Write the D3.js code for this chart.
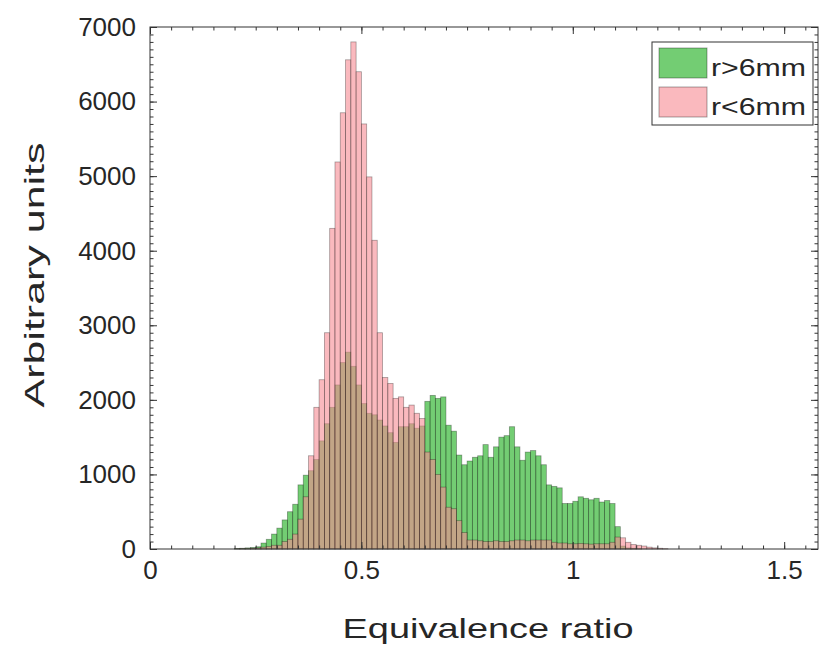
<!DOCTYPE html>
<html>
<head>
<meta charset="utf-8">
<script src="https://cdn.jsdelivr.net/npm/d3@7"></script>
<style>
  body { margin: 0; background: #fff; }
  text { font-family: "Liberation Sans", Arial, sans-serif; fill: #262626; }
</style>
</head>
<body>
<script>
// histogram bins: left edge of first bin and bin width (equivalence ratio)
const firstBin = 0.2;
const binWidth = 0.0125;

// counts per bin, starting at firstBin
const outerCounts = [ // r>6mm
  8, 10, 15, 20, 30, 80, 130, 200, 280, 390, 500, 600, 860, 990, 1050, 1200,
  1450, 1680, 1900, 2200, 2500, 2640, 2450, 2200, 1950, 1820, 1800, 1730, 1650, 1560, 1430, 1640,
  1640, 1680, 1620, 1650, 1980, 2060, 2020, 2040, 1660, 1580, 1260, 1130, 1180, 1230, 1250, 1400,
  1230, 1370, 1500, 1520, 1640, 1370, 1190, 1300, 1320, 1250, 1130, 860, 840, 820, 610, 610,
  640, 700, 680, 660, 680, 630, 650, 610, 300, 40, 15, 10, 5, 0, 0, 0, 0, 0
];
const innerCounts = [ // r<6mm
  3, 5, 5, 10, 15, 25, 35, 50, 50, 100, 130, 200, 400, 700, 1250, 1900,
  2270, 2900, 4300, 5190, 5850, 6560, 6800, 6400, 5700, 4990, 4140, 2900, 2300, 2220, 2020, 2040,
  1900, 1930, 1820, 1750, 1300, 1200, 1000, 830, 560, 540, 380, 220, 120, 120, 110, 100,
  100, 110, 100, 100, 110, 120, 120, 110, 120, 120, 120, 120, 90, 80, 80, 70,
  70, 75, 70, 65, 70, 70, 70, 90, 160, 150, 90, 60, 50, 40, 25, 15, 10, 5
];

const seriesNames = ['r>6mm', 'r<6mm'];
const xTicks = [0, 0.5, 1, 1.5];
const yTicks = [0, 1000, 2000, 3000, 4000, 5000, 6000, 7000];

const W = 820, H = 648;
const marginLeft = 150, plotRight = 818, marginTop = 27, plotBottom = 549;
const colors = ['#16ac16', '#f78a93'];

const x = d3.scaleLinear().domain([0, 1.58]).range([marginLeft, plotRight]);
const y = d3.scaleLinear().domain([0, 7000]).range([plotBottom, marginTop]);

const svg = d3.select('body').append('svg').attr('width', W).attr('height', H);

const toBins = counts => counts.map((c, i) => ({
  x0: firstBin + i * binWidth,
  x1: firstBin + (i + 1) * binWidth,
  c: c
}));

[outerCounts, innerCounts].forEach((counts, s) => {
  svg.append('g')
    .selectAll('rect')
    .data(toBins(counts).filter(d => d.c > 0))
    .join('rect')
    .attr('x', d => x(d.x0))
    .attr('y', d => y(d.c))
    .attr('width', d => x(d.x1) - x(d.x0))
    .attr('height', d => y(0) - y(d.c))
    .attr('fill', colors[s])
    .attr('fill-opacity', 0.6)
    .attr('stroke', '#000')
    .attr('stroke-opacity', 0.35)
    .attr('stroke-width', 0.8);
});

// axes, ticks inward on all four sides
const styleAxis = g => {
  g.select('.domain').remove();
  g.selectAll('.tick line').attr('stroke', '#333');
  g.selectAll('.tick text').style('font-size', '26px').attr('fill', '#262626');
};
const xMinor = d3.range(0, 1.58, 0.05);
const yMinor = d3.range(0, 7001, 100);

svg.append('g').attr('transform', `translate(0,${plotBottom})`)
  .call(d3.axisBottom(x).tickValues(xMinor).tickSize(-3.5).tickFormat('')).call(styleAxis);
svg.append('g').attr('transform', `translate(0,${plotBottom})`)
  .call(d3.axisBottom(x).tickValues(xTicks).tickSize(-7).tickPadding(12).tickFormat(d3.format('~g')))
  .call(styleAxis);
svg.append('g').attr('transform', `translate(0,${marginTop})`)
  .call(d3.axisTop(x).tickValues(xMinor).tickSize(-3.5).tickFormat('')).call(styleAxis);
svg.append('g').attr('transform', `translate(0,${marginTop})`)
  .call(d3.axisTop(x).tickValues(xTicks).tickSize(-7).tickFormat('')).call(styleAxis);

svg.append('g').attr('transform', `translate(${marginLeft},0)`)
  .call(d3.axisLeft(y).tickValues(yMinor).tickSize(-3.5).tickFormat('')).call(styleAxis);
svg.append('g').attr('transform', `translate(${marginLeft},0)`)
  .call(d3.axisLeft(y).tickValues(yTicks).tickSize(-7).tickPadding(14).tickFormat(d3.format('d')))
  .call(styleAxis);
svg.append('g').attr('transform', `translate(${plotRight},0)`)
  .call(d3.axisRight(y).tickValues(yMinor).tickSize(-3.5).tickFormat('')).call(styleAxis);
svg.append('g').attr('transform', `translate(${plotRight},0)`)
  .call(d3.axisRight(y).tickValues(yTicks).tickSize(-7).tickFormat('')).call(styleAxis);

svg.append('rect')
  .attr('x', marginLeft).attr('y', marginTop)
  .attr('width', plotRight - marginLeft).attr('height', plotBottom - marginTop)
  .attr('fill', 'none').attr('stroke', '#333').attr('stroke-width', 1);

// axis labels
svg.append('text')
  .attr('x', 488).attr('y', 638)
  .attr('text-anchor', 'middle')
  .attr('textLength', 291).attr('lengthAdjust', 'spacingAndGlyphs')
  .style('font-size', '28px')
  .text('Equivalence ratio');

svg.append('text')
  .attr('transform', 'translate(44,275) rotate(-90)')
  .attr('text-anchor', 'middle')
  .attr('textLength', 265).attr('lengthAdjust', 'spacingAndGlyphs')
  .style('font-size', '28px')
  .text('Arbitrary units');

// legend
const legend = svg.append('g');
legend.append('rect')
  .attr('x', 652).attr('y', 42).attr('width', 161).attr('height', 83)
  .attr('fill', '#fff').attr('stroke', '#333').attr('stroke-width', 1);
seriesNames.forEach((name, i) => {
  legend.append('rect')
    .attr('x', 659).attr('y', 48 + i * 39).attr('width', 48).attr('height', 30)
    .attr('fill', colors[i]).attr('fill-opacity', 0.6)
    .attr('stroke', '#000').attr('stroke-opacity', 0.35);
  legend.append('text')
    .attr('x', 711).attr('y', 76 + i * 39)
    .attr('textLength', 95).attr('lengthAdjust', 'spacingAndGlyphs')
    .style('font-size', '24px')
    .text(name);
});
</script>
</body>
</html>
